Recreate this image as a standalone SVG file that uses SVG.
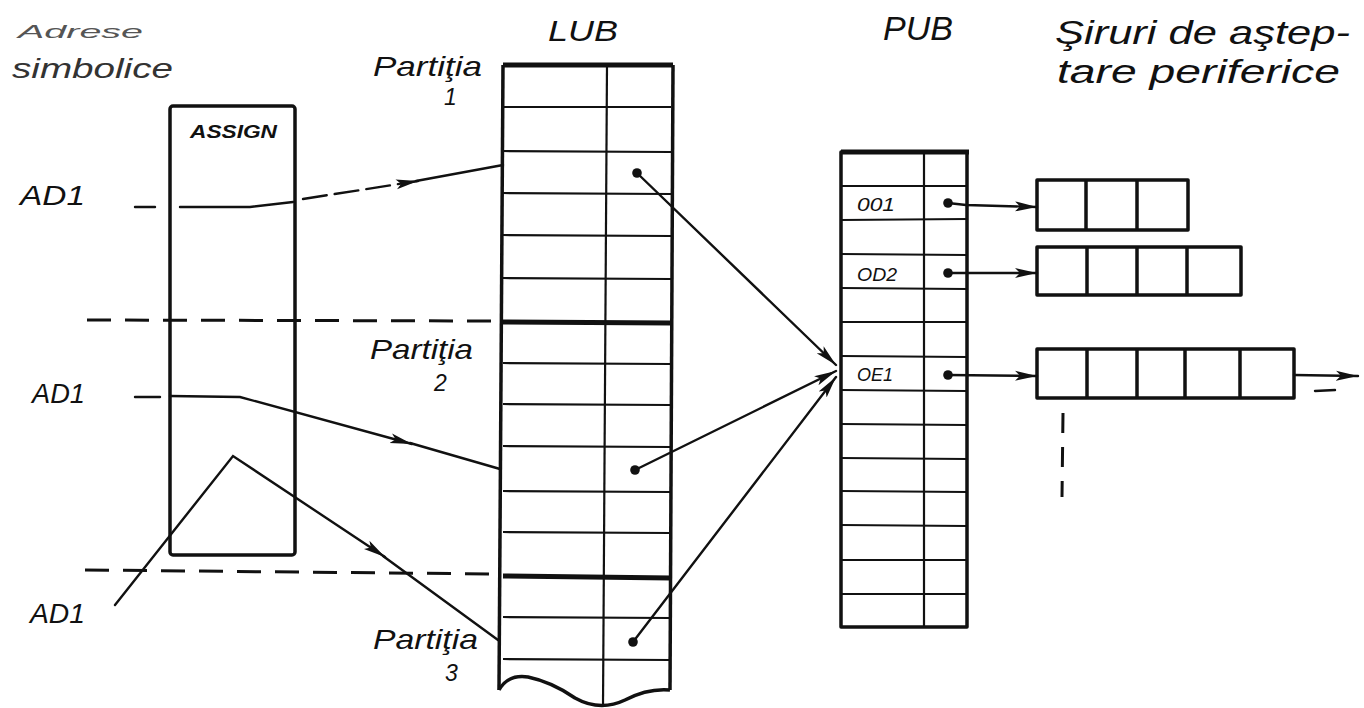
<svg xmlns="http://www.w3.org/2000/svg" width="1364" height="708" viewBox="0 0 1364 708">
<defs>
<style>
.t{font-family:"Liberation Sans",Arial,sans-serif;font-style:italic;fill:#111}
.ln{stroke:#111;stroke-width:2.4;fill:none;stroke-linecap:round}
.thin{stroke:#111;stroke-width:2.2;fill:none}
.box{stroke:#111;stroke-width:3.5;fill:none;stroke-linejoin:round}
.heavy{stroke:#111;stroke-width:5;fill:none}
.dash{stroke:#111;stroke-width:3;fill:none;stroke-dasharray:24,14}
</style>
<marker id="ah" viewBox="0 0 22 12" refX="22" refY="6" markerWidth="22" markerHeight="12" markerUnits="userSpaceOnUse" orient="auto">
<path d="M0,1 L22,6 L0,11 L5,6 Z" fill="#111"/>
</marker>
<marker id="dot" viewBox="0 0 10 10" refX="5" refY="5" markerWidth="10" markerHeight="10" markerUnits="userSpaceOnUse">
<circle cx="5" cy="5" r="4.8" fill="#111"/>
</marker>
</defs>
<rect width="1364" height="708" fill="#fff"/>

<g id="headings">
<text class="t" x="18" y="38" font-size="18" textLength="125" lengthAdjust="spacingAndGlyphs" style="fill:#555">Adrese</text>
<text class="t" x="12" y="78" font-size="27" textLength="161" lengthAdjust="spacingAndGlyphs" style="fill:#333">simbolice</text>
<text class="t" x="548" y="41" font-size="29" textLength="70" lengthAdjust="spacingAndGlyphs">LUB</text>
<text class="t" x="883" y="40" font-size="33" textLength="70" lengthAdjust="spacingAndGlyphs">PUB</text>
<text class="t" x="1055" y="44" font-size="34" textLength="295" lengthAdjust="spacingAndGlyphs">Şiruri de aştep-</text>
<text class="t" x="1057" y="83" font-size="34" textLength="283" lengthAdjust="spacingAndGlyphs">tare periferice</text>
</g>

<g id="assign">
<rect class="box" x="170" y="106" width="125" height="449" rx="3"/>
<text class="t" x="190" y="138" font-size="18" font-weight="bold" textLength="87" lengthAdjust="spacingAndGlyphs">ASSIGN</text>
</g>

<g id="ad1-labels">
<text class="t" x="20" y="205" font-size="28" textLength="65" lengthAdjust="spacingAndGlyphs">AD1</text>
<text class="t" x="32" y="403" font-size="28" textLength="53" lengthAdjust="spacingAndGlyphs">AD1</text>
<text class="t" x="30" y="623" font-size="28" textLength="55" lengthAdjust="spacingAndGlyphs">AD1</text>
</g>

<g id="partition-separators">
<line class="dash" x1="87" y1="320" x2="500" y2="321"/>
<line class="dash" x1="85" y1="570" x2="500" y2="574"/>
</g>

<g id="lub">
<line class="heavy" x1="503" y1="65" x2="673" y2="65"/>
<g class="thin">
<line x1="503" y1="107" x2="671" y2="107"/>
<line x1="503" y1="151" x2="671" y2="152"/>
<line x1="503" y1="193" x2="671" y2="194"/>
<line x1="503" y1="235" x2="671" y2="236"/>
<line x1="503" y1="278" x2="671" y2="279"/>
<line x1="503" y1="363" x2="671" y2="364"/>
<line x1="503" y1="404" x2="671" y2="405"/>
<line x1="503" y1="446" x2="671" y2="447"/>
<line x1="503" y1="491" x2="671" y2="492"/>
<line x1="503" y1="532" x2="671" y2="533"/>
<line x1="503" y1="617" x2="671" y2="618"/>
<line x1="503" y1="659" x2="671" y2="660"/>
<line x1="607" y1="65" x2="603" y2="706"/>
</g>
<line class="heavy" x1="503" y1="322" x2="671" y2="323"/>
<line class="heavy" x1="503" y1="576" x2="671" y2="578"/>
<line class="box" x1="503" y1="65" x2="499" y2="690"/>
<line class="box" x1="673" y1="65" x2="670" y2="690"/>
<path class="box" d="M499,690 Q508,674 528,677 Q552,682 575,698 Q600,712 625,700 Q648,688 670,690"/>
<text class="t" x="373" y="76" font-size="28" textLength="109" lengthAdjust="spacingAndGlyphs">Partiţia</text>
<text class="t" x="444" y="105" font-size="23">1</text>
<text class="t" x="370" y="359" font-size="28" textLength="103" lengthAdjust="spacingAndGlyphs">Partiţia</text>
<text class="t" x="434" y="391" font-size="23">2</text>
<text class="t" x="373" y="649" font-size="28" textLength="105" lengthAdjust="spacingAndGlyphs">Partiţia</text>
<text class="t" x="445" y="681" font-size="23">3</text>
</g>

<g id="pub">
<line class="heavy" x1="841" y1="152" x2="969" y2="152"/>
<g class="thin">
<line x1="841" y1="186" x2="967" y2="186"/>
<line x1="841" y1="220" x2="967" y2="219"/>
<line x1="841" y1="254" x2="967" y2="255"/>
<line x1="841" y1="288" x2="967" y2="289"/>
<line x1="841" y1="322" x2="967" y2="322"/>
<line x1="841" y1="356" x2="967" y2="357"/>
<line x1="841" y1="390" x2="967" y2="391"/>
<line x1="841" y1="424" x2="967" y2="425"/>
<line x1="841" y1="458" x2="967" y2="459"/>
<line x1="841" y1="491" x2="967" y2="492"/>
<line x1="841" y1="525" x2="967" y2="526"/>
<line x1="841" y1="560" x2="967" y2="560"/>
<line x1="841" y1="594" x2="967" y2="594"/>
<line x1="924" y1="152" x2="924" y2="627"/>
</g>
<rect class="box" x="841" y="152" width="126" height="475"/>
<text class="t" x="857" y="211" font-size="18" textLength="38" lengthAdjust="spacingAndGlyphs">001</text>
<text class="t" x="857" y="281" font-size="18" textLength="40" lengthAdjust="spacingAndGlyphs">OD2</text>
<text class="t" x="857" y="381" font-size="18" textLength="36" lengthAdjust="spacingAndGlyphs">OE1</text>
</g>

<g id="queue1">
<rect class="box" x="1037" y="180" width="151" height="50"/>
<line class="box" x1="1086" y1="180" x2="1086" y2="230"/>
<line class="box" x1="1137" y1="180" x2="1137" y2="230"/>
</g>
<g id="queue2">
<rect class="box" x="1037" y="247" width="204" height="48"/>
<line class="box" x1="1087" y1="247" x2="1087" y2="295"/>
<line class="box" x1="1137" y1="247" x2="1137" y2="295"/>
<line class="box" x1="1187" y1="247" x2="1187" y2="295"/>
</g>
<g id="queue3">
<rect class="box" x="1037" y="349" width="257" height="49"/>
<line class="box" x1="1087" y1="349" x2="1087" y2="398"/>
<line class="box" x1="1137" y1="349" x2="1137" y2="398"/>
<line class="box" x1="1185" y1="349" x2="1185" y2="398"/>
<line class="box" x1="1240" y1="349" x2="1240" y2="398"/>
</g>

<g id="connectors">
<line class="ln" x1="135" y1="207" x2="155" y2="207"/>
<path class="ln" d="M180,207 L250,207 L293,202"/>
<path class="ln" d="M303,199 L418,181" stroke-dasharray="24,8" marker-end="url(#ah)"/>
<path class="ln" d="M416,181 L503,165" stroke-width="3.2"/>
<line class="ln" x1="135" y1="397" x2="160" y2="397"/>
<path class="ln" d="M170,396 L240,397 L412,444" marker-end="url(#ah)"/>
<path class="ln" d="M410,443 L500,469"/>
<path class="ln" d="M115,605 L233,456 L385,557" marker-end="url(#ah)"/>
<path class="ln" d="M383,556 L498,640"/>
<path class="ln" d="M637,173 L836,365" marker-start="url(#dot)" marker-end="url(#ah)"/>
<path class="ln" d="M635,470 L836,371" marker-start="url(#dot)" marker-end="url(#ah)"/>
<path class="ln" d="M633,642 L836,377" marker-start="url(#dot)" marker-end="url(#ah)"/>
<path class="ln" d="M948,203 L966,205 L1037,207" marker-start="url(#dot)" marker-end="url(#ah)"/>
<path class="ln" d="M948,273 L1037,273" marker-start="url(#dot)" marker-end="url(#ah)"/>
<path class="ln" d="M948,375 L1037,376" marker-start="url(#dot)" marker-end="url(#ah)"/>
<path class="ln" d="M1294,375 L1358,376" marker-end="url(#ah)"/>
<line class="ln" x1="1315" y1="391" x2="1335" y2="390" stroke-width="1.5"/>
<line x1="1063" y1="413" x2="1062" y2="497" stroke="#111" stroke-width="3" stroke-dasharray="20,14"/>
</g>
</svg>
